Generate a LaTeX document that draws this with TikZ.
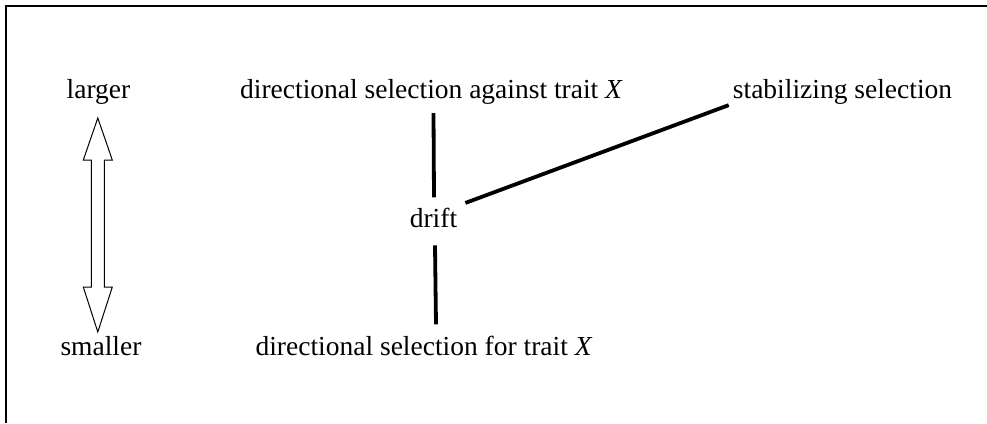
\documentclass[tikz,border=0pt]{standalone}
\usepackage{fontspec}
\setmainfont{Liberation Serif}
\usetikzlibrary{calc}
\tikzset{
  lbl/.style={anchor=base, inner sep=0pt, font=\fontsize{27.5bp}{33bp}\selectfont},
  conn/.style={line width=3.8bp, line cap=butt},
  frame/.style={line width=1.5bp},
  bigarrow/.style={line width=1bp, fill=white, line join=miter}
}
\begin{document}
\begin{tikzpicture}[x=1bp, y=-1bp]
\useasboundingbox (0,0) rectangle (987,423);
\draw[frame] (987,6) -- (6,6) -- (6,423);

\node[lbl] (larger) at (98.5,98) {larger};
\node[lbl] (smaller) at (101,355) {smaller};
\node[lbl] (dirA) at (431.5,98) {directional selection against trait \textit{X}};
\node[lbl] (stab) at (842.5,98) {stabilizing selection};
\node[lbl] (drift) at (433.5,227) {drift};
\node[lbl] (dirF) at (424,355) {directional selection for trait \textit{X}};

% double arrow between larger and smaller
\draw[bigarrow] (97.8,118) -- (112.3,160) -- (104.3,160) -- (104.3,287) -- (112.3,287)
  -- (97.8,332) -- (83.3,287) -- (91.3,287) -- (91.3,160) -- (83.3,160) -- cycle;

\draw[conn] ($(drift.north |- dirA.south)+(0,9)$) -- ($(drift.north)+(0.5,-10)$);
\draw[conn] ($(drift.east)+(8,-14.5)$) -- ($(stab.south west)+(-4,1)$);
\draw[conn] ($(drift.south)+(1.5,18)$) -- ($(drift.south |- dirF.north)+(2.5,-11)$);
\end{tikzpicture}
\end{document}
